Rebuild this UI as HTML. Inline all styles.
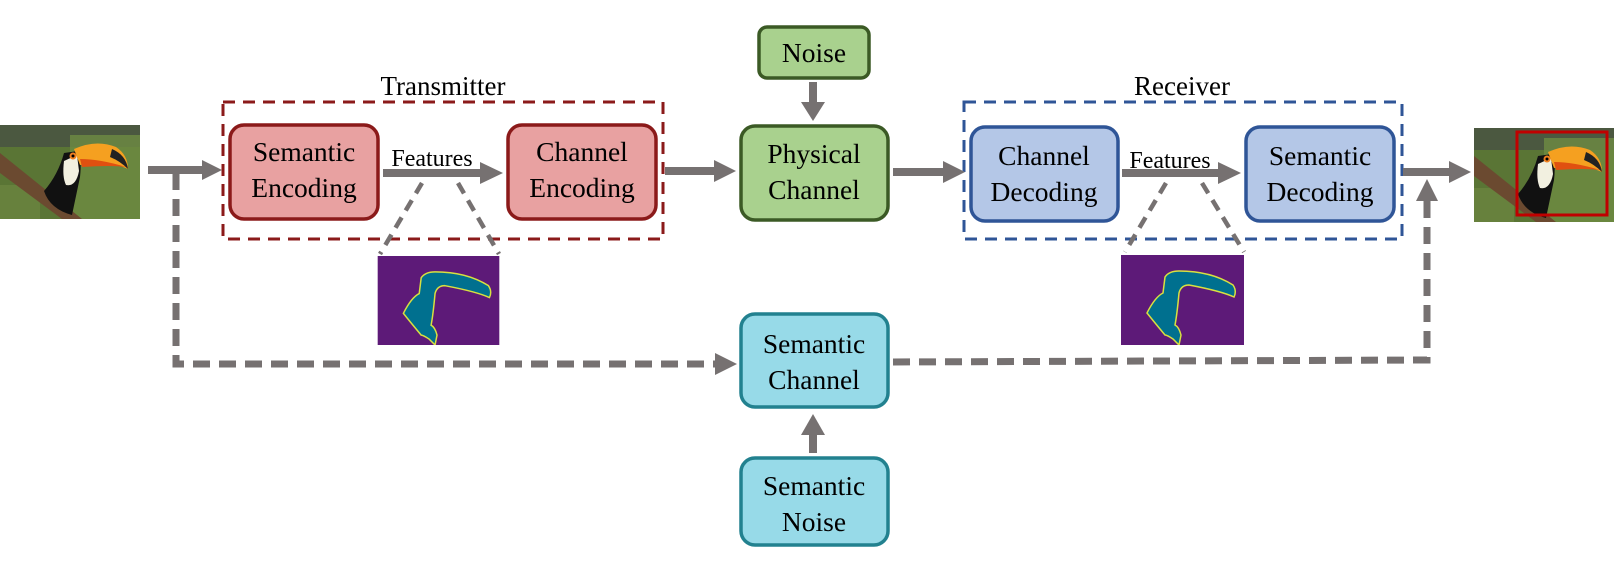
<!DOCTYPE html>
<html><head><meta charset="utf-8"><style>
html,body{margin:0;padding:0;background:#fff;}
svg{display:block;}
text{font-family:"Liberation Serif",serif;fill:#000;}
</style></head><body>
<svg width="1616" height="585" viewBox="0 0 1616 585" xmlns="http://www.w3.org/2000/svg">
<defs>
<symbol id="toucan" viewBox="0 0 140 94">
<rect width="140" height="94" fill="#5a7535"/>
<rect x="0" y="0" width="140" height="22" fill="#4b5840"/>
<rect x="70" y="10" width="70" height="84" fill="#6e8c42" opacity="0.8"/>
<rect x="0" y="60" width="40" height="34" fill="#6a8540" opacity="0.8"/>
<path d="M0 28 L0 48 L62 94 L82 94 Z" fill="#6b4a30"/>
<path d="M64 28 Q58 50 44 66 Q50 84 72 90 L80 52 Q82 34 78 26 Z" fill="#111"/>
<path d="M64 36 Q62 52 66 60 Q76 62 79 46 L77 30 Z" fill="#f2f0e0"/>
<path d="M74 24 Q96 14 116 22 Q128 30 128 44 Q110 36 80 40 Z" fill="#f5a020"/>
<path d="M80 34 Q100 34 126 42 Q112 40 82 42 Z" fill="#e05010"/>
<path d="M112 24 Q126 30 128 44 Q120 36 110 32 Z" fill="#222"/>
<circle cx="73" cy="31" r="3.5" fill="#f08020"/>
<circle cx="73" cy="31" r="1.5" fill="#000"/>
</symbol>
<symbol id="seg" viewBox="0 0 123 90">
<rect width="123" height="90" fill="#5d1a78"/>
<path d="M44 22 Q48 16 58 16 Q90 16 112 30 Q116 36 113 42 Q100 36 68 30 Q60 30 58 38 Q56 60 54 70 Q58 72 60 80 L58 90 L52 84 Q46 80 44 80 Q34 68 26 58 Q34 42 42 38 Z" fill="#00708f" stroke="#d8e040" stroke-width="1.5"/>
</symbol>
</defs>

<use href="#toucan" x="0" y="125" width="140" height="94"/>
<use href="#toucan" x="1474" y="128" width="140" height="94"/>
<rect x="1517" y="132" width="90" height="83" fill="none" stroke="#c00000" stroke-width="3"/>

<rect x="223" y="102" width="440" height="137" fill="none" stroke="#8b1a1a" stroke-width="3" stroke-dasharray="12,8"/>
<text x="443" y="95" font-size="27" text-anchor="middle">Transmitter</text>

<rect x="964" y="102" width="438" height="137" fill="none" stroke="#2f5597" stroke-width="3" stroke-dasharray="12,8"/>
<text x="1182" y="95" font-size="27" text-anchor="middle">Receiver</text>

<g stroke-width="3.5">
<rect x="230" y="125" width="148" height="94" rx="14" fill="#e8a1a1" stroke="#8b1a1a"/>
<rect x="508" y="125" width="148" height="94" rx="14" fill="#e8a1a1" stroke="#8b1a1a"/>
<rect x="759" y="27" width="110" height="51" rx="8" fill="#a9d18e" stroke="#3b5a25"/>
<rect x="741" y="126" width="147" height="94" rx="14" fill="#a9d18e" stroke="#3b5a25"/>
<rect x="971" y="127" width="147" height="94" rx="14" fill="#b4c7e7" stroke="#2f5597"/>
<rect x="1246" y="127" width="148" height="94" rx="14" fill="#b4c7e7" stroke="#2f5597"/>
<rect x="741" y="314" width="147" height="93" rx="14" fill="#97dae8" stroke="#22818f"/>
<rect x="741" y="458" width="147" height="87" rx="14" fill="#97dae8" stroke="#22818f"/>
</g>

<g font-size="27.5" text-anchor="middle">
<text x="304" y="161">Semantic</text><text x="304" y="197">Encoding</text>
<text x="582" y="161">Channel</text><text x="582" y="197">Encoding</text>
<text x="814" y="62">Noise</text>
<text x="814" y="163">Physical</text><text x="814" y="199">Channel</text>
<text x="1044" y="165">Channel</text><text x="1044" y="201">Decoding</text>
<text x="1320" y="165">Semantic</text><text x="1320" y="201">Decoding</text>
<text x="814" y="353">Semantic</text><text x="814" y="389">Channel</text>
<text x="814" y="495">Semantic</text><text x="814" y="531">Noise</text>
</g>
<text x="432" y="166" font-size="24" text-anchor="middle">Features</text>
<text x="1170" y="168" font-size="24" text-anchor="middle">Features</text>

<g fill="#767171" stroke="none">
<rect x="148" y="166" width="56" height="8"/><polygon points="202,160 222,170 202,180"/>
<rect x="383" y="169" width="102" height="8"/><polygon points="480,162 503,173 480,184"/>
<rect x="665" y="167" width="52" height="8"/><polygon points="714,160 736,171 714,182"/>
<rect x="809" y="82" width="8" height="22"/><polygon points="801,102 825,102 813,121"/>
<rect x="893" y="168" width="52" height="8"/><polygon points="943,161 965,172 943,183"/>
<rect x="1122" y="169" width="100" height="8"/><polygon points="1218,162 1241,173 1218,184"/>
<rect x="1403" y="168" width="48" height="8"/><polygon points="1449,161 1471,172 1449,183"/>
<rect x="809" y="433" width="8" height="20"/><polygon points="801,435 825,435 813,414"/>
<polygon points="715,353 737,364 715,375"/>
<polygon points="1416,201 1438,201 1427,179"/>
</g>

<g fill="none" stroke="#767171" stroke-width="7" stroke-dasharray="17,9">
<polyline points="176,173 176,364 716,364"/>
<polyline points="893,362 1427,360 1427,200"/>
</g>
<g fill="none" stroke="#767171" stroke-width="4.5" stroke-dasharray="12,8">
<line x1="422" y1="183" x2="380" y2="254"/>
<line x1="458" y1="183" x2="499" y2="254"/>
<line x1="1166" y1="183" x2="1125" y2="252"/>
<line x1="1202" y1="183" x2="1244" y2="252"/>
</g>

<use href="#seg" x="377" y="256" width="123" height="89"/>
<use href="#seg" x="1121" y="255" width="123" height="90"/>
</svg>
</body></html>
